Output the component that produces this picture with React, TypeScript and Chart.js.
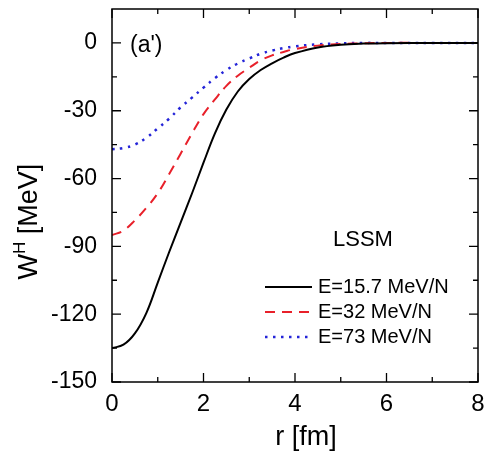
import React, { useEffect, useRef } from "react";
import { Chart, registerables } from "chart.js";

Chart.register(...registerables);

// r [fm]
const rValues = [0, 0.25, 0.5, 0.75, 1, 1.25, 1.5, 1.75, 2, 2.25, 2.5, 2.75, 3, 3.25, 3.5, 3.75, 4, 4.5, 5, 5.5, 6, 7, 8];
// W^H [MeV]
const wE157 = [-135, -133.5, -128.5, -119.5, -106, -92.5, -79.5, -66.5, -53, -40, -29.5, -21.5, -16, -12, -9, -6.5, -4.5, -2, -0.8, -0.3, -0.1, 0, 0];
const wE32 = [-85, -83, -78.5, -73, -66.5, -58, -49, -40, -31.5, -25, -19, -14.5, -11, -7.7, -5.5, -4, -2.7, -1.2, -0.5, -0.2, 0, 0, 0];
const wE73 = [-47, -46.5, -45, -42, -37.8, -33.5, -28.5, -24.2, -19.8, -15.6, -12, -9.1, -6.9, -4.8, -3.4, -2.3, -1.5, -0.6, -0.2, 0, 0, 0, 0];

const seriesLabels = ["E=15.7 MeV/N", "E=32 MeV/N", "E=73 MeV/N"];

const xMajorTicks = [0, 2, 4, 6, 8];
const xMinorTicks = [1, 3, 5, 7];
const yMajorTicks = [-150, -120, -90, -60, -30, 0];
const yMinorTicks = [-135, -105, -75, -45, -15];

const FONT = "'Liberation Sans', Arial, sans-serif";

const decorPlugin = {
  id: "decor",
  afterDraw(chart: any) {
    const { ctx, chartArea: a, scales } = chart;
    const x = scales.x;
    const y = scales.y;
    ctx.save();
    ctx.strokeStyle = "#000";
    ctx.lineWidth = 1.5;
    ctx.strokeRect(a.left, a.top, a.right - a.left, a.bottom - a.top);
    ctx.lineWidth = 1.3;
    const vt = (v: number, len: number) => {
      const p = x.getPixelForValue(v);
      ctx.beginPath();
      ctx.moveTo(p, a.bottom);
      ctx.lineTo(p, a.bottom - len);
      ctx.moveTo(p, a.top);
      ctx.lineTo(p, a.top + len);
      ctx.stroke();
    };
    const ht = (v: number, len: number) => {
      const p = y.getPixelForValue(v);
      ctx.beginPath();
      ctx.moveTo(a.left, p);
      ctx.lineTo(a.left + len, p);
      ctx.moveTo(a.right, p);
      ctx.lineTo(a.right - len, p);
      ctx.stroke();
    };
    xMajorTicks.forEach((v) => vt(v, 9));
    xMinorTicks.forEach((v) => vt(v, 5));
    yMajorTicks.forEach((v) => ht(v, 9));
    yMinorTicks.forEach((v) => ht(v, 5));

    ctx.fillStyle = "#000";

    // x axis title
    ctx.textBaseline = "middle";
    ctx.textAlign = "center";
    ctx.font = `27px ${FONT}`;
    ctx.fillText("r [fm]", a.left + 194, a.bottom + 56);

    // y axis title with superscript
    ctx.save();
    ctx.translate(30, a.top + 0.57 * (a.bottom - a.top));
    ctx.rotate(-Math.PI / 2);
    const big = `27px ${FONT}`;
    const small = `17px ${FONT}`;
    ctx.font = big;
    const wW = ctx.measureText("W").width;
    const wRest = ctx.measureText(" [MeV]").width;
    ctx.font = small;
    const wH = ctx.measureText("H").width;
    const total = wW + wH + wRest;
    let cx = -total / 2;
    ctx.textBaseline = "middle";
    ctx.textAlign = "left";
    ctx.font = big;
    ctx.fillText("W", cx, 0);
    cx += wW;
    ctx.font = small;
    ctx.fillText("H", cx, -10);
    cx += wH;
    ctx.font = big;
    ctx.fillText(" [MeV]", cx, 0);
    ctx.restore();

    // annotations
    ctx.textBaseline = "middle";
    ctx.textAlign = "left";
    ctx.font = `23px ${FONT}`;
    ctx.fillText("(a')", a.left + 18, a.top + 37);
    ctx.font = `22px ${FONT}`;
    ctx.fillText("LSSM", a.left + 221, a.top + 231);

    // legend
    ctx.font = `20px ${FONT}`;
    chart.data.datasets.forEach((ds: any, i: number) => {
      const ly = a.top + 278 + i * 25;
      ctx.save();
      ctx.strokeStyle = ds.borderColor;
      ctx.lineWidth = ds.borderWidth;
      ctx.setLineDash(ds.borderDash || []);
      ctx.beginPath();
      ctx.moveTo(a.left + 153, ly);
      ctx.lineTo(a.left + 200, ly);
      ctx.stroke();
      ctx.restore();
      ctx.fillStyle = "#000";
      ctx.fillText(ds.label, a.left + 206, ly);
    });
    ctx.restore();
  },
};

export default function App() {
  const ref = useRef<HTMLCanvasElement>(null);
  useEffect(() => {
    document.body.style.margin = "0";
    const mk = (vals: number[]) => rValues.map((r, i) => ({ x: r, y: vals[i] }));
    const chart = new Chart(ref.current as HTMLCanvasElement, {
      type: "line",
      data: {
        datasets: [
          { label: seriesLabels[0], data: mk(wE157), borderColor: "#000000", borderWidth: 2, borderDash: [], pointRadius: 0, tension: 0.4, fill: false },
          { label: seriesLabels[1], data: mk(wE32), borderColor: "#e8202a", borderWidth: 2, borderDash: [10, 7], pointRadius: 0, tension: 0.4, fill: false },
          { label: seriesLabels[2], data: mk(wE73), borderColor: "#2424d8", borderWidth: 2.5, borderDash: [2.5, 5.5], pointRadius: 0, tension: 0.4, fill: false },
        ],
      },
      options: {
        responsive: false,
        animation: false,
        layout: { padding: { left: 0, top: 9, right: 11, bottom: 0 } },
        plugins: { legend: { display: false }, tooltip: { enabled: false } },
        scales: {
          x: {
            type: "linear",
            min: 0,
            max: 8,
            grid: { display: false },
            border: { display: false },
            afterFit: (s: any) => { s.height = 73; s.paddingLeft = 0; s.paddingRight = 0; },
            afterBuildTicks: (s: any) => { s.ticks = xMajorTicks.map((v) => ({ value: v })); },
            ticks: { color: "#000", padding: 0, font: { family: FONT, size: 24 }, maxRotation: 0 },
          },
          y: {
            type: "linear",
            min: -150,
            max: 15,
            grid: { display: false },
            border: { display: false },
            afterFit: (s: any) => { s.width = 112; s.paddingTop = 0; s.paddingBottom = 0; },
            afterBuildTicks: (s: any) => { s.ticks = yMajorTicks.map((v) => ({ value: v })); },
            ticks: { color: "#000", padding: 7, font: { family: FONT, size: 23 } },
          },
        },
      },
      plugins: [decorPlugin],
    });
    return () => chart.destroy();
  }, []);
  return (
    <canvas ref={ref} width={489} height={455} style={{ position: "fixed", left: 0, top: 0, display: "block" }} />
  );
}
